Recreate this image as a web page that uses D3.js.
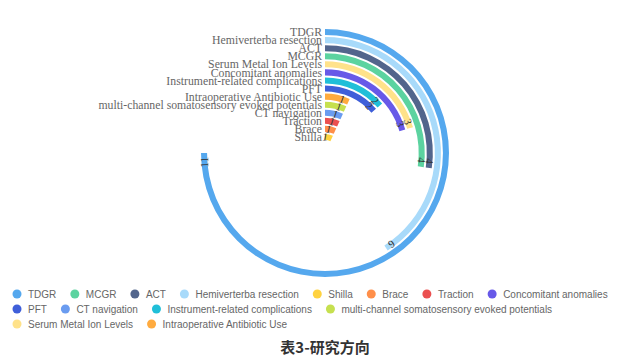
<!DOCTYPE html>
<html>
<head>
<meta charset="utf-8">
<script src="https://cdn.jsdelivr.net/npm/d3@7"></script>
<style>
  html, body { margin: 0; padding: 0; background: #fff; }
  svg { display: block; }
</style>
</head>
<body>
<div id="chart"></div>
<script>
// categories, outermost ring first
const categories = ["TDGR", "Hemiverterba resection", "ACT", "MCGR", "Serum Metal Ion Levels",
  "Concomitant anomalies", "Instrument-related complications", "PFT", "Intraoperative Antibiotic Use",
  "multi-channel somatosensory evoked potentials", "CT navigation", "Traction", "Brace", "Shilla"];
const counts = [11, 6, 4, 4, 3, 3, 2, 2, 1, 1, 1, 1, 1, 1];
const colors = ["#55a8ee", "#a8dafa", "#52658c", "#5cd3a0", "#ffe28a",
  "#6759e8", "#20bfd8", "#3f5fd9", "#ffab3f",
  "#c6e04f", "#6a9cf0", "#eb5050", "#ff8f4a", "#ffd23f"];
// legend order as in the picture
const legendOrder = ["TDGR", "MCGR", "ACT", "Hemiverterba resection", "Shilla", "Brace", "Traction",
  "Concomitant anomalies", "PFT", "CT navigation", "Instrument-related complications",
  "multi-channel somatosensory evoked potentials", "Serum Metal Ion Levels", "Intraoperative Antibiotic Use"];
const title = "表3-研究方向";

const width = 640, height = 364;
const cx = 325, cy = 153;

const svg = d3.select("#chart").append("svg")
  .attr("width", width)
  .attr("height", height);

const color = d3.scaleOrdinal().domain(categories).range(colors);

// radius: innermost = last category
const r = d3.scaleBand()
  .domain(categories.slice().reverse())
  .range([12, 125])
  .paddingInner(0.25)
  .paddingOuter(0.125);

// biggest bar takes three quarters of the circle
const angle = d3.scaleLinear()
  .domain([0, d3.max(counts) * 4 / 3])
  .range([0, 2 * Math.PI]);

const rows = categories.map((c, i) => ({ name: c, value: counts[i] }));

const g = svg.append("g").attr("transform", `translate(${cx},${cy})`);

const arc = d3.arc()
  .innerRadius(d => r(d.name))
  .outerRadius(d => r(d.name) + r.bandwidth())
  .startAngle(0)
  .endAngle(d => angle(d.value));

g.selectAll("path.bar")
  .data(rows)
  .join("path")
  .attr("class", "bar")
  .attr("d", arc)
  .attr("fill", d => color(d.name));

// category labels on the radius axis
g.selectAll("text.cat")
  .data(rows)
  .join("text")
  .attr("class", "cat")
  .attr("x", -3)
  .attr("y", d => -(r(d.name) + r.bandwidth() / 2))
  .attr("dy", "0.35em")
  .attr("text-anchor", "end")
  .style("font-family", "'Liberation Serif', serif")
  .style("font-size", "11.75px")
  .style("fill", "#666")
  .text(d => d.name);

// value labels at the end of each bar, along the tangent
g.selectAll("text.val")
  .data(rows)
  .join("text")
  .attr("class", "val")
  .attr("transform", d => {
    const rad = r(d.name) + r.bandwidth() / 2;
    const a = angle(d.value) - 4 / rad;
    const x = rad * Math.sin(a), y = -rad * Math.cos(a);
    return `translate(${x},${y}) rotate(${a * 180 / Math.PI})`;
  })
  .attr("dy", "0.35em")
  .attr("text-anchor", "end")
  .style("font-family", "'Liberation Serif', serif")
  .style("font-size", "11px")
  .style("fill", "#333")
  .text(d => d.value);

// legend, wrapped rows
const legend = svg.append("g");
const fs = 10;
let lx = 17, ly = 294;
const maxX = 625;
const measure = svg.append("text").style("font-family", "'Liberation Sans', Arial, sans-serif")
  .style("font-size", fs + "px");
legendOrder.forEach(name => {
  measure.text(name);
  const w = measure.node().getComputedTextLength();
  if (lx + 11 + w > maxX) { lx = 17; ly += 15; }
  legend.append("circle")
    .attr("cx", lx).attr("cy", ly).attr("r", 4.5)
    .attr("fill", color(name));
  legend.append("text")
    .attr("x", lx + 11).attr("y", ly)
    .attr("dy", "0.35em")
    .style("font-family", "'Liberation Sans', Arial, sans-serif")
    .style("font-size", fs + "px")
    .style("fill", "#666")
    .text(name);
  lx += 11 + w + 18.5;
});
measure.remove();

svg.append("text")
  .attr("x", 325)
  .attr("y", 348)
  .attr("dy", "0.35em")
  .attr("text-anchor", "middle")
  .style("font-family", "'Noto Sans CJK SC', sans-serif")
  .style("font-size", "15px")
  .style("font-weight", "bold")
  .style("fill", "#333")
  .text(title);
</script>
</body>
</html>
